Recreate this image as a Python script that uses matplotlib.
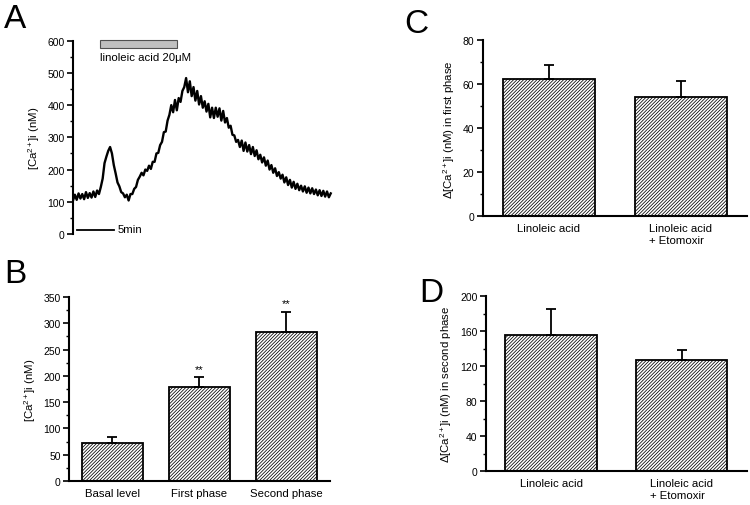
import numpy as np
import matplotlib
matplotlib.use("Agg")
import matplotlib.pyplot as plt
from matplotlib.patches import Rectangle

plt.rcParams['font.family'] = ['Liberation Sans', 'DejaVu Sans']
plt.rcParams['mathtext.fontset'] = 'custom'
plt.rcParams['mathtext.rm'] = 'Liberation Sans'
plt.rcParams['mathtext.it'] = 'Liberation Sans'
plt.rcParams['hatch.color'] = '#a8a8a8'
plt.rcParams['hatch.linewidth'] = 0.55

# ---------------- data ----------------
# Panel A: [Ca2+]i trace (nM), sampled every 0.25 min
trace_dt = 0.25
trace_values = [104, 122, 106, 126, 110, 124, 108, 130, 112, 127, 113, 132, 115, 135, 124, 146,
                172, 220, 240, 258, 270, 250, 214, 188, 160, 148, 130, 126, 114, 122, 104, 124,
                124, 140, 146, 168, 178, 190, 182, 200, 196, 212, 202, 224, 224, 250, 252, 276,
                286, 316, 318, 352, 370, 400, 378, 416, 384, 422, 410, 444, 456, 484, 440, 474,
                428, 456, 414, 444, 402, 428, 392, 412, 380, 404, 362, 392, 360, 392, 364, 390,
                352, 382, 346, 360, 330, 336, 308, 306, 286, 292, 270, 290, 258, 284, 256, 276,
                248, 270, 242, 260, 232, 246, 222, 238, 212, 228, 200, 214, 190, 204, 180, 192,
                172, 184, 160, 176, 152, 168, 144, 162, 140, 156, 136, 150, 132, 148, 128, 144,
                126, 142, 124, 138, 120, 136, 118, 134, 116, 132, 114, 126]
stim_start, stim_end = 3.65, 14.0          # min, linoleic acid application
scalebar_start, scalebar_end = 0.5, 5.5    # 5 min scale bar

# Panel B
b_categories = ['Basal level', 'First phase', 'Second phase']
b_values = [72, 179, 284]
b_errors = [11, 18, 37]
b_marks = ['', '**', '**']

# Panel C
cd_categories = ['Linoleic acid', 'Linoleic acid\n+ Etomoxir']
c_values = [62.5, 54.0]
c_errors = [6.4, 7.3]

# Panel D
d_values = [156, 127]
d_errors = [30, 12]

# ---------------- figure ----------------
W, H = 750, 506
fig = plt.figure(figsize=(W / 100, H / 100), dpi=100)

TICK_FS = 7.5
LAB_FS = 8.2


def style_axes(ax, left_only=False):
    for s in ['top', 'right']:
        ax.spines[s].set_visible(False)
    ax.spines['left'].set_linewidth(1.5)
    ax.spines['bottom'].set_linewidth(1.5)
    if left_only:
        ax.spines['bottom'].set_visible(False)
    ax.tick_params(axis='y', which='major', direction='out', length=4, width=1.2,
                   labelsize=TICK_FS, pad=2)
    ax.tick_params(axis='y', which='minor', direction='out', length=2, width=1.0)
    ax.tick_params(axis='x', length=0, labelsize=LAB_FS, pad=5)


def bar_panel(ax, cats, vals, errs, ymax, major, minor, ylabel, marks=None, width=0.69):
    x = np.arange(len(cats))
    ax.bar(x, vals, width=width, facecolor='white', edgecolor='black', linewidth=1.3,
           hatch='//////////', zorder=2)
    ax.errorbar(x, vals, yerr=[np.zeros(len(errs)), errs], fmt='none', ecolor='black',
                elinewidth=1.3, capsize=3.6, capthick=1.3, zorder=3)
    if marks:
        for xi, v, e, m in zip(x, vals, errs, marks):
            if m:
                ax.text(xi, v + e + ymax * 0.02, m, ha='center', va='bottom', fontsize=8)
    ax.set_xlim(-0.5, len(cats) - 0.5)
    ax.set_ylim(0, ymax)
    ax.set_yticks(np.arange(0, ymax + 0.1, major))
    ax.set_yticks(np.arange(0, ymax + 0.1, minor), minor=True)
    ax.set_xticks(x)
    ax.set_xticklabels(cats, multialignment='left')
    ax.set_ylabel(ylabel, fontsize=LAB_FS, labelpad=4)
    style_axes(ax)


# ---- Panel A ----
axA = fig.add_axes([73 / W, 1 - 235 / H, 267 / W, (235 - 41.7) / H])
t = np.arange(len(trace_values)) * trace_dt
axA.plot(t, trace_values, color='black', lw=1.7)
axA.set_xlim(0, 36)
axA.set_ylim(0, 600)
axA.set_yticks(np.arange(0, 601, 100))
axA.set_yticks(np.arange(0, 601, 50), minor=True)
axA.set_xticks([])
axA.set_ylabel('[Ca$^{2+}$]i (nM)', fontsize=LAB_FS, labelpad=4)
style_axes(axA, left_only=True)
axA.add_patch(Rectangle((stim_start, 578), stim_end - stim_start, 24, facecolor='#c0c0c0',
                        edgecolor='#505050', linewidth=0.8, clip_on=False))
axA.text(stim_start, 548, 'linoleic acid 20\u03bcM', fontsize=LAB_FS, ha='left', va='center')
axA.plot([scalebar_start, scalebar_end], [12, 12], color='black', lw=1.3, clip_on=False)
axA.text(scalebar_end + 0.5, 14, '5min', fontsize=LAB_FS, ha='left', va='center')

# ---- Panel B ----
axB = fig.add_axes([69 / W, 1 - 482 / H, 261 / W, (482 - 298) / H])
bar_panel(axB, b_categories, b_values, b_errors, 350, 50, 25, '[Ca$^{2+}$]i (nM)',
          marks=b_marks)

# ---- Panel C ----
axC = fig.add_axes([482.7 / W, 1 - 217 / H, 264.3 / W, (217 - 41.3) / H])
bar_panel(axC, cd_categories, c_values, c_errors, 80, 20, 10,
          '\u0394[Ca$^{2+}$]i (nM) in first phase', width=0.70)

# ---- Panel D ----
axD = fig.add_axes([485.7 / W, 1 - 472 / H, 261.3 / W, (472 - 297.3) / H])
bar_panel(axD, cd_categories, d_values, d_errors, 200, 40, 20,
          '\u0394[Ca$^{2+}$]i (nM) in second phase', width=0.70)

# panel letters
for lab, (px, py) in {'A': (4, 28), 'B': (4, 283), 'C': (404, 33), 'D': (419, 302)}.items():
    fig.text(px / W, 1 - py / H, lab, fontsize=24, ha='left', va='baseline')

fig.savefig('out.png', dpi=100)
